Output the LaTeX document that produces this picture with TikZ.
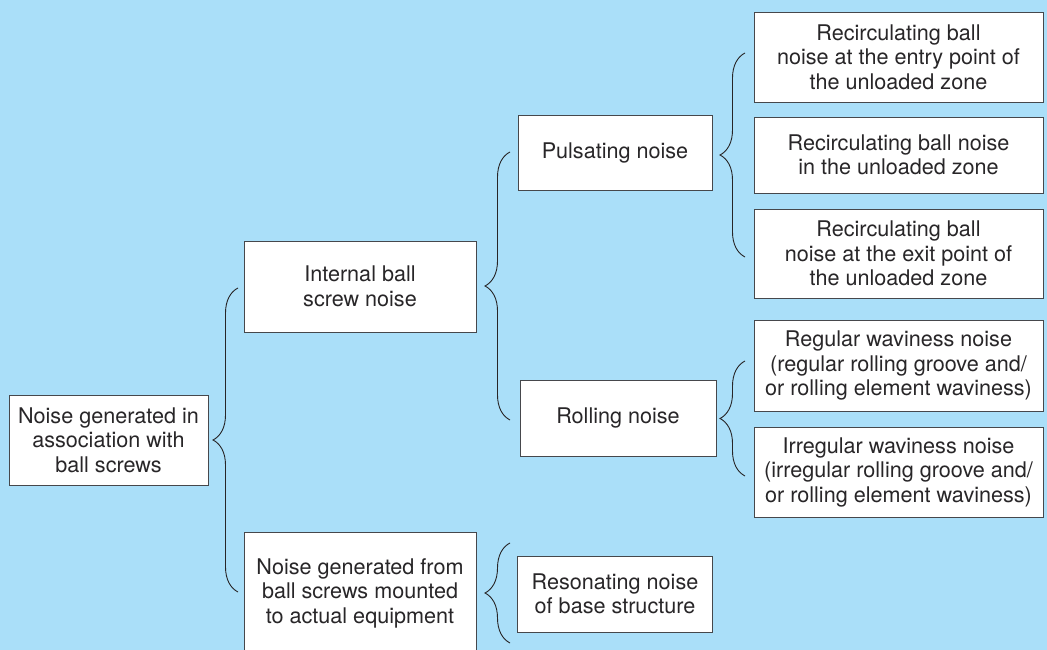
\documentclass[tikz,border=0pt]{standalone}
\usepackage{fontspec}
\setmainfont{TeX Gyre Heros}
\usetikzlibrary{decorations.pathreplacing}

\definecolor{skyback}{RGB}{170,223,249}
\definecolor{inktext}{RGB}{40,38,40}
\definecolor{boxline}{RGB}{70,72,76}

\begin{document}
\begin{tikzpicture}[
    x=1pt, y=1pt,
    box/.style={rectangle, draw=boxline, line width=0.9pt, fill=white, text=inktext, align=center, inner sep=0pt, font=\fontsize{21.6}{24.5}\selectfont},
    curly/.style={draw=inktext, line width=0.9pt, decorate, decoration={brace, amplitude=25pt}}
]

\fill[skyback] (0,0) rectangle (1047,650);
\useasboundingbox (0,0) rectangle (1047,650);

\node[box, minimum width=199pt, minimum height=90pt] (noise) at (108.5,210) {Noise generated in\\association with\\ball screws};
\node[box, minimum width=232pt, minimum height=91pt] (internal) at (360,363.5) {Internal ball\\screw noise};
\node[box, minimum width=232pt, minimum height=122pt] (mounted) at (360,57) {Noise generated from\\ball screws mounted\\to actual equipment};
\node[box, minimum width=194pt, minimum height=75pt] (pulsating) at (615,497.5) {Pulsating noise};
\node[box, minimum width=196pt, minimum height=76pt] (rolling) at (618,232) {Rolling noise};
\node[box, minimum width=195pt, minimum height=76pt] (resonating) at (615,56) {Resonating noise\\of base structure};
\node[box, minimum width=289pt, minimum height=90pt] (entry) at (898.5,593) {Recirculating ball\\noise at the entry point of\\the unloaded zone};
\node[box, minimum width=289pt, minimum height=76pt] (unloaded) at (898.5,495) {Recirculating ball noise\\in the unloaded zone};
\node[box, minimum width=289pt, minimum height=89pt] (exit) at (898.5,396.5) {Recirculating ball\\noise at the exit point of\\the unloaded zone};
\node[box, minimum width=289pt, minimum height=91pt] (regular) at (898.5,284.5) {Regular waviness noise\\(regular rolling groove and/\\or rolling element waviness)};
\node[box, minimum width=289pt, minimum height=90pt] (irregular) at (898.5,178) {Irregular waviness noise\\(irregular rolling groove and/\\or rolling element waviness)};

% brace ends
\coordinate (noisetop) at (238,362);
\coordinate (noisebot) at (238,58);
\coordinate (internaltop) at (510,498);
\coordinate (internalbot) at (510,230);
\coordinate (pulsetop) at (745,597);
\coordinate (pulsebot) at (745,393);
\coordinate (rolltop) at (745,289);
\coordinate (rollbot) at (745,174);
\coordinate (mounttop) at (510,107);
\coordinate (mountbot) at (510,7);

\draw[curly] (noisebot) -- (noisetop);
\draw[curly] (internalbot) -- (internaltop);
\draw[curly] (pulsebot) -- (pulsetop);
\draw[curly] (rollbot) -- (rolltop);
\draw[curly] (mountbot) -- (mounttop);

\end{tikzpicture}
\end{document}
